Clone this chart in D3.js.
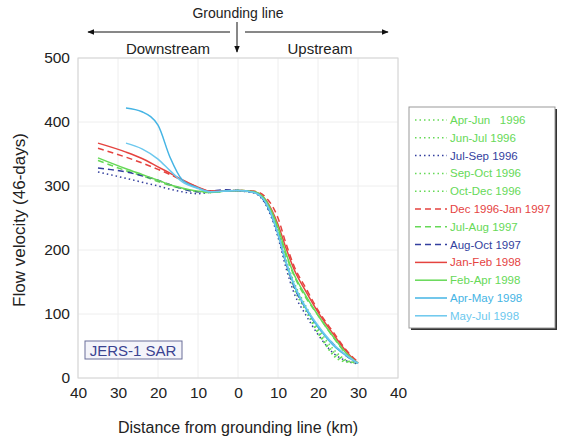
<!DOCTYPE html>
<html>
  <head>
    <meta charset="utf-8">
    <script src="https://d3js.org/d3.v7.min.js"></script>
    <style>
      body { margin: 0; background: #fff; }
      text { font-family: "Liberation Sans", Arial, sans-serif; }
    </style>
  </head>
  <body>
    <div id="chart"></div>
    <script>

        // distance from grounding line (km), negative = downstream
        const dist = [-35, -28, -24, -20, -17, -14, -10, -7, -3, 0, 4, 7, 10, 12, 14, 17, 20, 24, 27, 30]

        const aprJun96  = [null, null, null, null, null, null, null, 290, 292, 293, 290, 273, 226, 180, 142, 106, 72, 40, 27, 24]
        const junJul96  = [null, null, null, null, null, null, null, 291, 292, 293, 291, 275, 230, 186, 150, 112, 78, 44, 28, 23]
        const julSep96  = [322, 312, 306, 300, 295, 291, 288, 290, 292, 292, 289, 270, 220, 172, 133, 98, 68, 38, 27, 22]
        const sepOct96  = [null, null, null, null, null, null, null, 290, 292, 293, 290, 272, 224, 178, 140, 104, 70, 36, 26, 24]
        const octDec96  = [null, null, null, null, null, null, null, 290, 292, 292, 290, 274, 228, 183, 146, 110, 75, 34, 25, 24]
        const decJan97  = [359, 345, 336, 326, 318, 309, 298, 292, 292, 293, 292, 282, 250, 210, 175, 140, 106, 70, 44, 25]
        const julAug97  = [340, 324, 316, 307, 301, 296, 291, 290, 292, 293, 291, 276, 232, 192, 160, 125, 98, 62, 38, 23]
        const augOct97  = [328, 322, 316, 309, 302, 296, 291, 292, 294, 293, 290, 272, 225, 180, 143, 108, 80, 52, 35, 23]
        const janFeb98  = [367, 353, 343, 330, 320, 310, 298, 292, 292, 293, 291, 278, 240, 203, 170, 135, 103, 67, 42, 23]
        const febApr98  = [344, 327, 318, 309, 302, 297, 292, 290, 292, 293, 291, 277, 235, 195, 162, 128, 98, 63, 39, 23]
        const aprMay98  = [null, 422, 416, 395, 345, 310, 297, 291, 292, 293, 290, 273, 225, 180, 145, 108, 80, 50, 35, 23]
        const mayJul98  = [null, 367, 358, 342, 324, 307, 296, 291, 292, 293, 290, 274, 226, 182, 147, 110, 82, 52, 36, 23]

        const names  = ['Apr-Jun   1996', 'Jun-Jul 1996', 'Jul-Sep 1996', 'Sep-Oct 1996', 'Oct-Dec 1996',
                        'Dec 1996-Jan 1997', 'Jul-Aug 1997', 'Aug-Oct 1997', 'Jan-Feb 1998', 'Feb-Apr 1998',
                        'Apr-May 1998', 'May-Jul 1998']
        const values = [aprJun96, junJul96, julSep96, sepOct96, octDec96, decJan97, julAug97, augOct97,
                        janFeb98, febApr98, aprMay98, mayJul98]

        const xTicks = [-40, -30, -20, -10, 0, 10, 20, 30, 40]
        const yTicks = [0, 100, 200, 300, 400, 500]

        const green = '#66d957', red = '#e5433f', navy = '#333f9e', sky = '#45b4e4', sky2 = '#6cc8ee'
        const colors = [green, green, navy, green, green, red, green, navy, red, green, sky, sky2]
        const dashes = ['1.5,3', '1.5,3', '1.5,3', '1.5,3', '1.5,3', '6,4', '6,4', '6,4', null, null, null, null]

        let width  = 564,
            height = 439,
            svg    = d3.select('#chart').append('svg')
                        .attr('width', width)
                        .attr('height', height),

            x = d3.scaleLinear().domain([-40, 40]).range([78, 398]),
            y = d3.scaleLinear().domain([0, 500]).range([378, 58])

        // grid
        svg.append('g').selectAll('line.vg')
            .data(xTicks)
            .enter().append('line')
            .attr('x1', d => x(d)).attr('x2', d => x(d))
            .attr('y1', y(0)).attr('y2', y(500))
            .attr('stroke', '#eeeeee')
        svg.append('g').selectAll('line.hg')
            .data(yTicks)
            .enter().append('line')
            .attr('x1', x(-40)).attr('x2', x(40))
            .attr('y1', d => y(d)).attr('y2', d => y(d))
            .attr('stroke', '#eeeeee')

        svg.append('rect')
            .attr('x', x(-40)).attr('y', y(500))
            .attr('width', x(40) - x(-40)).attr('height', y(0) - y(500))
            .attr('fill', 'none').attr('stroke', '#d4d4d4')

        // axes
        let xAxis = svg.append('g')
            .attr('transform', `translate(0,${y(0)})`)
            .call(d3.axisBottom(x).tickValues(xTicks).tickFormat(d => Math.abs(d)).tickSize(0).tickPadding(6))
        let yAxis = svg.append('g')
            .attr('transform', `translate(${x(-40)},0)`)
            .call(d3.axisLeft(y).tickValues(yTicks).tickSize(0).tickPadding(8))
        xAxis.select('.domain').remove()
        yAxis.select('.domain').remove()
        svg.selectAll('.tick text')
            .attr('font-size', 15.5)
            .attr('font-family', '"Liberation Sans", Arial, sans-serif')
            .attr('fill', '#222')
        yAxis.selectAll('.tick text').attr('dy', '0.3em')
        xAxis.selectAll('.tick text').attr('dy', '0.9em')

        svg.append('text')
            .attr('transform', `translate(25,${(y(0) + y(500)) / 2 + 2}) rotate(-90)`)
            .attr('text-anchor', 'middle')
            .attr('font-size', 17).attr('fill', '#222')
            .text('Flow velocity (46-days)')
        svg.append('text')
            .attr('x', x(0)).attr('y', 433)
            .attr('text-anchor', 'middle')
            .attr('font-size', 16).attr('fill', '#222')
            .text('Distance from grounding line (km)')

        // curves
        let line = d3.line()
            .defined(d => d[1] !== null)
            .x(d => x(d[0]))
            .y(d => y(d[1]))
            .curve(d3.curveMonotoneX)

        values.forEach((v, i) => {
            svg.append('path')
                .datum(dist.map((d, j) => [d, v[j]]))
                .attr('d', line)
                .attr('fill', 'none')
                .attr('stroke', colors[i])
                .attr('stroke-width', 1.5)
                .attr('stroke-dasharray', dashes[i])
        })

        // top annotation
        let defs = svg.append('defs')
        defs.append('marker')
            .attr('id', 'arrow')
            .attr('viewBox', '0 0 10 10')
            .attr('refX', 9).attr('refY', 5)
            .attr('markerWidth', 7).attr('markerHeight', 7)
            .attr('orient', 'auto')
            .append('path').attr('d', 'M0,1 L10,5 L0,9 z').attr('fill', '#111')

        svg.append('text')
            .attr('x', x(0)).attr('y', 18)
            .attr('text-anchor', 'middle')
            .attr('font-size', 14).attr('fill', '#222')
            .text('Grounding line')
        svg.append('line')
            .attr('x1', x(0) - 8).attr('x2', 88).attr('y1', 32).attr('y2', 32)
            .attr('stroke', '#111').attr('marker-end', 'url(#arrow)')
        svg.append('line')
            .attr('x1', x(0) + 7).attr('x2', 388).attr('y1', 32).attr('y2', 32)
            .attr('stroke', '#111').attr('marker-end', 'url(#arrow)')
        svg.append('line')
            .attr('x1', x(0) - 1).attr('x2', x(0) - 1).attr('y1', 22).attr('y2', 52)
            .attr('stroke', '#111').attr('marker-end', 'url(#arrow)')
        svg.append('text')
            .attr('x', 168).attr('y', 54)
            .attr('text-anchor', 'middle')
            .attr('font-size', 15).attr('fill', '#222')
            .text('Downstream')
        svg.append('text')
            .attr('x', 320).attr('y', 54)
            .attr('text-anchor', 'middle')
            .attr('font-size', 15).attr('fill', '#222')
            .text('Upstream')

        // JERS-1 SAR label
        svg.append('rect')
            .attr('x', 85).attr('y', 341).attr('width', 97).attr('height', 18)
            .attr('fill', '#f4f4fa').attr('stroke', '#6a6f99')
        svg.append('text')
            .attr('x', 133).attr('y', 356)
            .attr('text-anchor', 'middle')
            .attr('font-size', 15).attr('fill', '#3a4391')
            .text('JERS-1 SAR')

        // legend
        let lg = svg.append('g')
        lg.append('rect')
            .attr('x', 411).attr('y', 109).attr('width', 146).attr('height', 221)
            .attr('fill', '#333')
        lg.append('rect')
            .attr('x', 409).attr('y', 107).attr('width', 146).attr('height', 221)
            .attr('fill', '#fff').attr('stroke', '#999')

        names.forEach((n, i) => {
            let ly = 120 + i * 17.8
            lg.append('line')
                .attr('x1', 415).attr('x2', 447)
                .attr('y1', ly).attr('y2', ly)
                .attr('stroke', colors[i])
                .attr('stroke-width', 1.5)
                .attr('stroke-dasharray', dashes[i])
            lg.append('text')
                .attr('x', 450).attr('y', ly + 4)
                .attr('font-size', 11.5)
                .attr('fill', colors[i])
                .style('white-space', 'pre')
                .text(n)
        })

    </script>
  </body>
</html>
